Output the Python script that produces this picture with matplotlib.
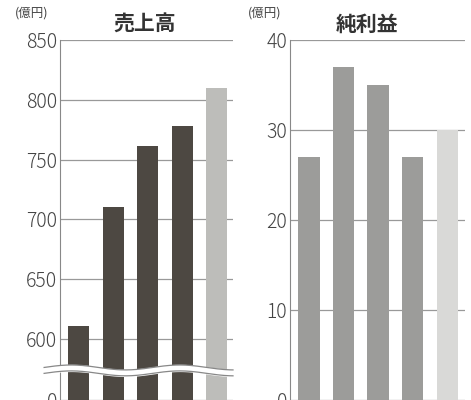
import numpy as np
import matplotlib
matplotlib.use("Agg")
import matplotlib.pyplot as plt
plt.rcParams['font.family'] = ['Noto Sans CJK JP', 'DejaVu Sans']

sales = [611, 710, 761, 778, 810]
sales_ticks = [0, 600, 650, 700, 750, 800, 850]
profit = [27, 37, 35, 27, 30]
profit_ticks = [0, 10, 20, 30, 40]

W, H = 471, 400
fig = plt.figure(figsize=(4.71, 4.0), dpi=100)

def spos(v):
    v = np.asarray(v, float)
    return np.where(v < 600, v / 600 * 62, 62 + (v - 600) * 1.212)

def setup(ax, ticks, tickpos, xr):
    ax.set_xlim(*xr)
    for s in ['top', 'right', 'bottom']:
        ax.spines[s].set_visible(False)
    ax.spines['left'].set_color('#888888')
    ax.set_xticks([])
    ax.set_yticks(tickpos)
    ax.set_yticklabels([str(t) for t in ticks], fontsize=14, color='#444444', fontweight='light')
    ax.tick_params(axis='y', length=0, pad=2)
    for p in tickpos:
        ax.axhline(p, color='#999999', lw=0.9, zorder=0)

# left
ax1 = fig.add_axes([60 / W, 0, 173 / W, 0.9])
ax1.set_ylim(5, 365)
x = np.arange(len(sales))
cols = ['#4d4842'] * 4 + ['#bdbdba']
ax1.bar(x, spos(sales), width=0.61, color=cols, zorder=2)
setup(ax1, sales_ticks, spos(sales_ticks), (-0.54, 4.47))
xx = np.linspace(-1.0, 4.47, 300)
wave = 2.5 * np.sin((xx + 1.0) * 2.0)
ax1.fill_between(xx, 27 + wave, 33 + wave, color='white', zorder=3, clip_on=False)
ax1.plot(xx, 27 + wave, color='#888888', lw=0.9, zorder=4, clip_on=False)
ax1.plot(xx, 33 + wave, color='#888888', lw=0.9, zorder=4, clip_on=False)

# right
ax2 = fig.add_axes([290 / W, 0, 175 / W, 0.9])
ax2.set_ylim(0, 360)
cols2 = ['#9c9c9a'] * 4 + ['#d9d9d7']
ax2.bar(x, np.array(profit) * 9, width=0.61, color=cols2, zorder=2)
setup(ax2, profit_ticks, np.array(profit_ticks) * 9, (-0.55, 4.52))

fig.text(15 / W, 1 - 13 / H, '(億円)', fontsize=9, color='#444444', va='center')
fig.text(248 / W, 1 - 13 / H, '(億円)', fontsize=9, color='#444444', va='center')
fig.text(145 / W, 1 - 24 / H, '売上高', fontsize=15, fontweight='bold', color='#333333', ha='center', va='center')
fig.text(367 / W, 1 - 24 / H, '純利益', fontsize=15, fontweight='bold', color='#333333', ha='center', va='center')

fig.savefig('out.png', dpi=100)
